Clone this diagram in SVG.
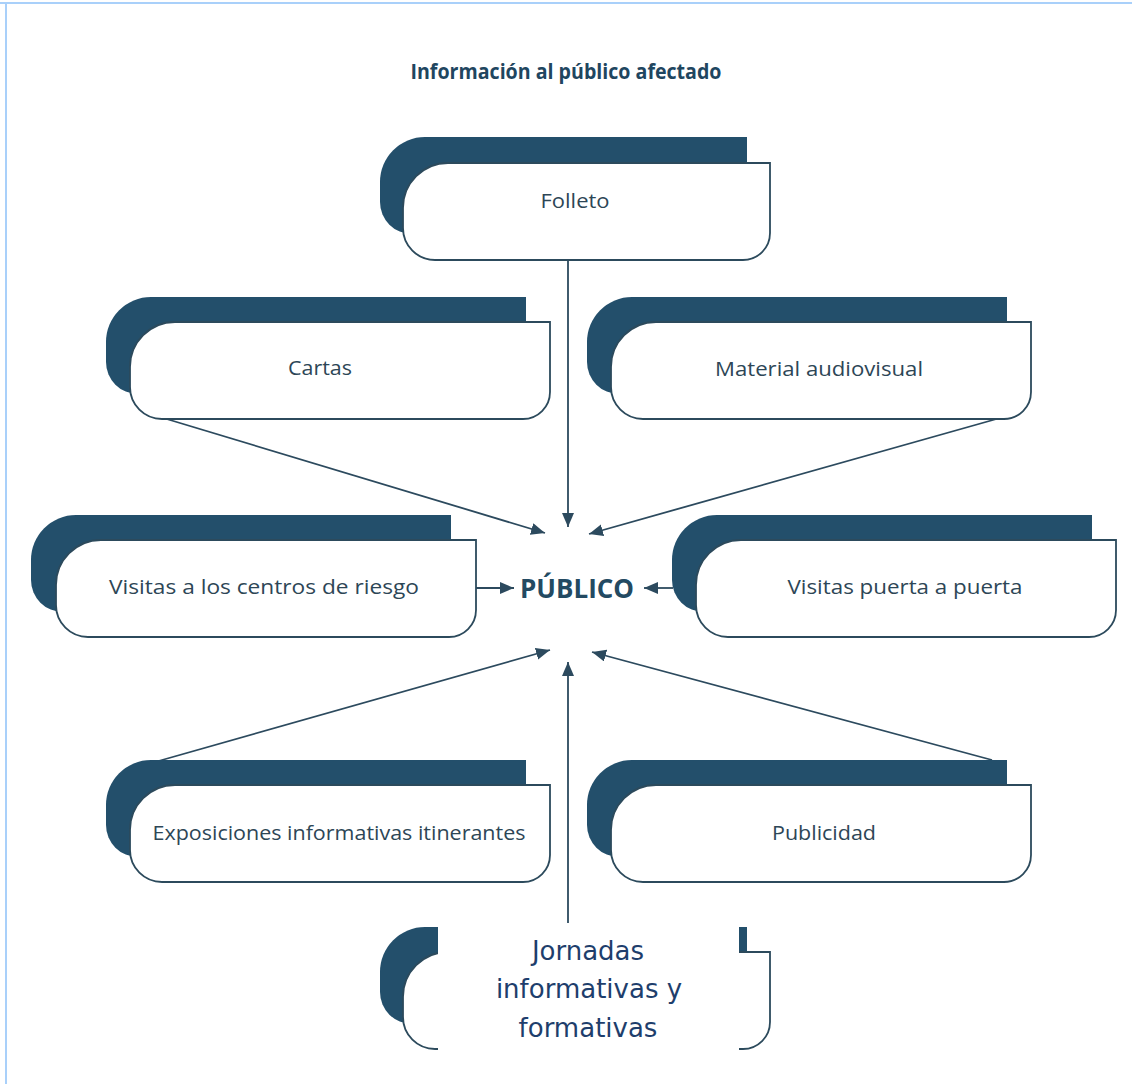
<svg xmlns="http://www.w3.org/2000/svg" width="1132" height="1084" viewBox="0 0 1132 1084">
<style>
.sh{fill:#234f6b}
.bx{fill:#ffffff;stroke:#2c4a5c;stroke-width:1.8}
.lbl{font-family:"Open Sans","Liberation Sans",sans-serif;font-size:20.5px;fill:#2d4656;text-anchor:middle}
.con{stroke:#2c4a5e;stroke-width:1.8;fill:none;marker-end:url(#ah)}
.title{font-family:"Open Sans","Liberation Sans",sans-serif;font-weight:bold;font-size:22px;fill:#1f4660;text-anchor:middle}
.pub{font-family:"Open Sans","Liberation Sans",sans-serif;font-weight:bold;font-size:27px;fill:#234a62;text-anchor:middle}
.jor{font-family:"DejaVu Sans","Liberation Sans",sans-serif;font-size:26px;fill:#1e3e6c;text-anchor:middle}
</style>
<defs>
<path id="bL" d="M45,0 H420 V70 A27,27 0 0 1 393,97 H32 A32,32 0 0 1 0,65 V45 A45,45 0 0 1 45,0 Z"/>
<path id="bS" d="M45,0 H367 V70 A27,27 0 0 1 340,97 H32 A32,32 0 0 1 0,65 V45 A45,45 0 0 1 45,0 Z"/>
<marker id="ah" markerUnits="userSpaceOnUse" markerWidth="16" markerHeight="14" refX="14" refY="6" orient="auto">
<path d="M0,0 L14,6 L0,12 Z" fill="#2c4a5e"/>
</marker>
</defs>
<rect x="0" y="2" width="1132" height="2" fill="#a9d0fa"/>
<rect x="5" y="2" width="2" height="1082" fill="#a9d0fa"/>
<text class="title" x="566" y="79" textLength="311" lengthAdjust="spacingAndGlyphs">Información al público afectado</text>
<g id="connectors">
<line class="con" x1="568" y1="258" x2="568" y2="527"/>
<line class="con" x1="160" y1="417" x2="545" y2="533"/>
<line class="con" x1="1000" y1="418" x2="589" y2="534"/>
<line class="con" x1="476" y1="588" x2="514" y2="588"/>
<line class="con" x1="673" y1="588" x2="644" y2="588"/>
<line class="con" x1="155" y1="762" x2="550" y2="650"/>
<line class="con" x1="992" y1="760" x2="592" y2="652"/>
<line class="con" x1="568" y1="930" x2="568" y2="662"/>
</g>
<g id="n-folleto">
<use href="#bS" class="sh" x="380" y="137"/>
<use href="#bS" class="bx" x="403" y="163"/>
<text class="lbl" x="575" y="208" textLength="69" lengthAdjust="spacingAndGlyphs">Folleto</text>
</g>
<g id="n-cartas">
<use href="#bL" class="sh" x="106" y="297"/>
<use href="#bL" class="bx" x="130" y="322"/>
<text class="lbl" x="320" y="375" textLength="64" lengthAdjust="spacingAndGlyphs">Cartas</text>
</g>
<g id="n-material">
<use href="#bL" class="sh" x="587" y="297"/>
<use href="#bL" class="bx" x="611" y="322"/>
<text class="lbl" x="819" y="376" textLength="208" lengthAdjust="spacingAndGlyphs">Material audiovisual</text>
</g>
<g id="n-visitas-centros">
<use href="#bL" class="sh" x="31" y="515"/>
<use href="#bL" class="bx" x="56" y="540"/>
<text class="lbl" x="264" y="594" textLength="310" lengthAdjust="spacingAndGlyphs">Visitas a los centros de riesgo</text>
</g>
<g id="n-visitas-puerta">
<use href="#bL" class="sh" x="672" y="515"/>
<use href="#bL" class="bx" x="696" y="540"/>
<text class="lbl" x="905" y="594" textLength="235" lengthAdjust="spacingAndGlyphs">Visitas puerta a puerta</text>
</g>
<g id="n-publico">
<text class="pub" x="577" y="598" textLength="114" lengthAdjust="spacingAndGlyphs">PÚBLICO</text>
</g>
<g id="n-exposiciones">
<use href="#bL" class="sh" x="106" y="760"/>
<use href="#bL" class="bx" x="130" y="785"/>
<text class="lbl" x="339" y="840" textLength="373" lengthAdjust="spacingAndGlyphs">Exposiciones informativas itinerantes</text>
</g>
<g id="n-publicidad">
<use href="#bL" class="sh" x="587" y="760"/>
<use href="#bL" class="bx" x="611" y="785"/>
<text class="lbl" x="824" y="840" textLength="104" lengthAdjust="spacingAndGlyphs">Publicidad</text>
</g>
<g id="n-jornadas">
<use href="#bS" class="sh" x="380" y="927"/>
<use href="#bS" class="bx" x="403" y="952"/>
<rect x="438" y="923" width="301" height="128" fill="#ffffff"/>
<text class="jor" x="588" y="960">Jornadas</text>
<text class="jor" x="589" y="998">informativas y</text>
<text class="jor" x="588" y="1037">formativas</text>
</g>
</svg>
